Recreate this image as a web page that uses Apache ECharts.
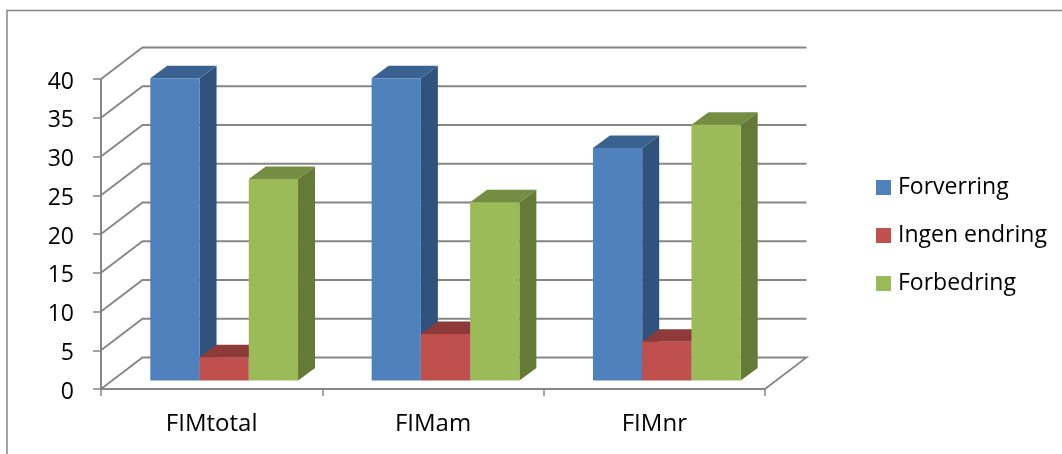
<!DOCTYPE html>
<html>
<head>
<meta charset="utf-8">
<style>html,body{margin:0;padding:0;background:#fff}#c{width:1062px;height:454px}</style>
<script src="https://cdn.jsdelivr.net/npm/echarts@6/dist/echarts.min.js"></script>
</head>
<body>
<div id="c"></div>
<script>
const categories = ['FIMtotal', 'FIMam', 'FIMnr'];
const forverring = [39, 39, 30];
const ingenEndring = [3, 6, 5];
const forbedring = [26, 23, 33];
const gridValues = [0, 5, 10, 15, 20, 25, 30, 35, 40];

const LINE = '#868686';
const FONT = '"Open Sans"';
const FONT_SIZE = 23;
// Oblique projection of the chart box and of the bars standing inside it.
const WALL_DX = 41.5, WALL_DY = 31.5;
const BAR_SHIFT_X = 12.5, BAR_SHIFT_Y = 8.4;
const DEPTH_X = 17, DEPTH_Y = 12.6;
const BAR_BAND = 0.2225;

function gridItem(params, api) {
  const cs = params.coordSys;
  const y = api.coord([0, api.value(1)])[1];
  const x0 = cs.x, x1 = cs.x + cs.width;
  const points = [[x0, y], [x0 + WALL_DX, y - WALL_DY], [x1 + WALL_DX, y - WALL_DY]];
  // The floor closes back to the front edge at the right-hand corner.
  if (api.value(1) === 0) points.push([x1, y]);
  return {
    type: 'polyline',
    shape: { points },
    style: { stroke: LINE, lineWidth: 1.8, fill: null }
  };
}

function barItem(slot, front, top, side) {
  return function (params, api) {
    const band = api.size([1, 0])[0];
    const w = band * BAR_BAND;
    const c = api.coord([api.value(0), api.value(1)]);
    const b = api.coord([api.value(0), 0]);
    const x0 = c[0] - 1.5 * w + slot * w + BAR_SHIFT_X;
    const x1 = x0 + w;
    const yTop = c[1] - BAR_SHIFT_Y;
    const yBase = b[1] - BAR_SHIFT_Y;
    const poly = (points, fill) => ({
      type: 'polygon', shape: { points }, style: { fill, stroke: null }
    });
    return {
      type: 'group',
      children: [
        poly([[x1, yTop], [x1 + DEPTH_X, yTop - DEPTH_Y], [x1 + DEPTH_X, yBase - DEPTH_Y], [x1, yBase]], side),
        poly([[x0, yTop], [x0 + DEPTH_X, yTop - DEPTH_Y], [x1 + DEPTH_X, yTop - DEPTH_Y], [x1, yTop]], top),
        poly([[x0, yTop], [x1, yTop], [x1, yBase], [x0, yBase]], front)
      ]
    };
  };
}

function barSeries(name, values, slot, front, top, side) {
  return {
    type: 'custom',
    name,
    z: 3 + slot,
    itemStyle: { color: front },
    encode: { x: 0, y: 1 },
    data: values.map((v, i) => [i, v]),
    renderItem: barItem(slot, front, top, side)
  };
}

const chart = echarts.init(document.getElementById('c'), null, { renderer: 'canvas' });
chart.setOption({
  animation: false,
  backgroundColor: '#fff',
  graphic: [{
    type: 'rect',
    silent: true,
    z: 0,
    shape: { x: 7, y: 10.5, width: 1300, height: 700 },
    style: { fill: null, stroke: LINE, lineWidth: 1.5 }
  }],
  grid: { left: 101, top: 79, width: 664, height: 310 },
  legend: {
    left: 876,
    top: 176,
    padding: 0,
    orient: 'vertical',
    icon: 'rect',
    itemWidth: 15,
    itemHeight: 15,
    itemGap: 25,
    data: ['Forverring', 'Ingen endring', 'Forbedring'],
    textStyle: { fontFamily: FONT, fontSize: FONT_SIZE, color: '#000', padding: [0, 0, 0, 2] }
  },
  xAxis: {
    type: 'category',
    data: categories,
    axisLine: { lineStyle: { color: LINE, width: 2 } },
    axisTick: { show: true, length: 7, lineStyle: { color: LINE, width: 1.5 } },
    axisLabel: { fontFamily: FONT, fontSize: 24, color: '#000', margin: 23 }
  },
  yAxis: {
    type: 'value',
    min: 0,
    max: 40,
    interval: 5,
    splitLine: { show: false },
    axisLine: { show: true, lineStyle: { color: LINE, width: 2 } },
    axisTick: { show: true, length: 8, lineStyle: { color: LINE, width: 1.5 } },
    axisLabel: {
      margin: 27,
      formatter: '{tick|{value}}',
      rich: { tick: { fontFamily: FONT, fontSize: FONT_SIZE, color: '#000', padding: [6, 0, 0, 0] } }
    }
  },
  series: [
    {
      type: 'custom',
      name: 'grid',
      z: 1,
      silent: true,
      encode: { x: 0, y: 1 },
      data: gridValues.map(v => [0, v]),
      renderItem: gridItem
    },
    barSeries('Forverring', forverring, 0, '#4F81BD', '#3A6290', '#30527C'),
    barSeries('Ingen endring', ingenEndring, 1, '#C0504D', '#8E3A38', '#7C302E'),
    barSeries('Forbedring', forbedring, 2, '#9BBB59', '#748D42', '#667A38')
  ]
});
</script>
</body>
</html>
